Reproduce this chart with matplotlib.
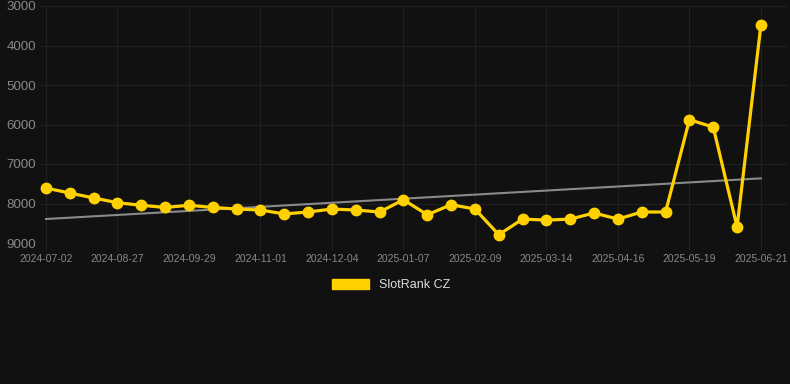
import numpy as np
import matplotlib
matplotlib.use('Agg')
import matplotlib.pyplot as plt
from matplotlib.patches import Patch

plt.rcParams['font.family'] = ['Liberation Sans', 'DejaVu Sans']

# rank values (lower is better, axis inverted)
ranks = [7610, 7735, 7860, 7980, 8045, 8100, 8045, 8100, 8140, 8165,
         8265, 8215, 8140, 8165, 8215, 7905, 8285, 8030, 8140, 8790,
         8395, 8420, 8395, 8240, 8395, 8215, 8215, 5880, 6065, 8595, 3480]
tick_labels = ['2024-07-02', '2024-08-27', '2024-09-29', '2024-11-01', '2024-12-04',
               '2025-01-07', '2025-02-09', '2025-03-14', '2025-04-16', '2025-05-19',
               '2025-06-21']
y_ticks = [3000, 4000, 5000, 6000, 7000, 8000, 9000]

bg = '#111111'
yellow = '#FFD100'
grid = '#202020'

x = np.arange(len(ranks))
fig = plt.figure(figsize=(7.9, 3.84), dpi=100, facecolor=bg)
ax = fig.add_axes([40 / 790, 1 - 243 / 384, 748 / 790, 237 / 384], facecolor=bg)

# trend line (linear fit)
k, b = np.polyfit(x, ranks, 1)
ax.plot(x, k * x + b, color='#8a8a8a', lw=1.5, zorder=2)

ax.plot(x, ranks, color=yellow, lw=2.3, marker='o', markersize=7.5, zorder=3)

ax.set_ylim(9000, 3000)
ax.set_yticks(y_ticks)
ax.set_xlim((40 - 46) / 23.83, (788 - 46) / 23.83)
ax.set_xticks(x[::3])
ax.set_xticklabels(tick_labels)

ax.grid(True, color=grid, lw=0.8)
for s in ax.spines.values():
    s.set_visible(False)
ax.tick_params(axis='x', colors=grid, length=5, width=0.8, labelcolor='#888888', labelsize=7.5, pad=3)
ax.tick_params(axis='y', length=0, labelcolor='#888888', labelsize=9.6, pad=3)

leg = fig.legend(handles=[Patch(color=yellow, label='SlotRank CZ')], loc='center',
                 bbox_to_anchor=(391 / 790, 1 - 285 / 384), frameon=False,
                 handlelength=3.0, handleheight=0.9, handletextpad=0.75,
                 prop={'size': 9})
for t in leg.get_texts():
    t.set_color('#dddddd')

fig.savefig('out.png', dpi=100, facecolor=bg)
